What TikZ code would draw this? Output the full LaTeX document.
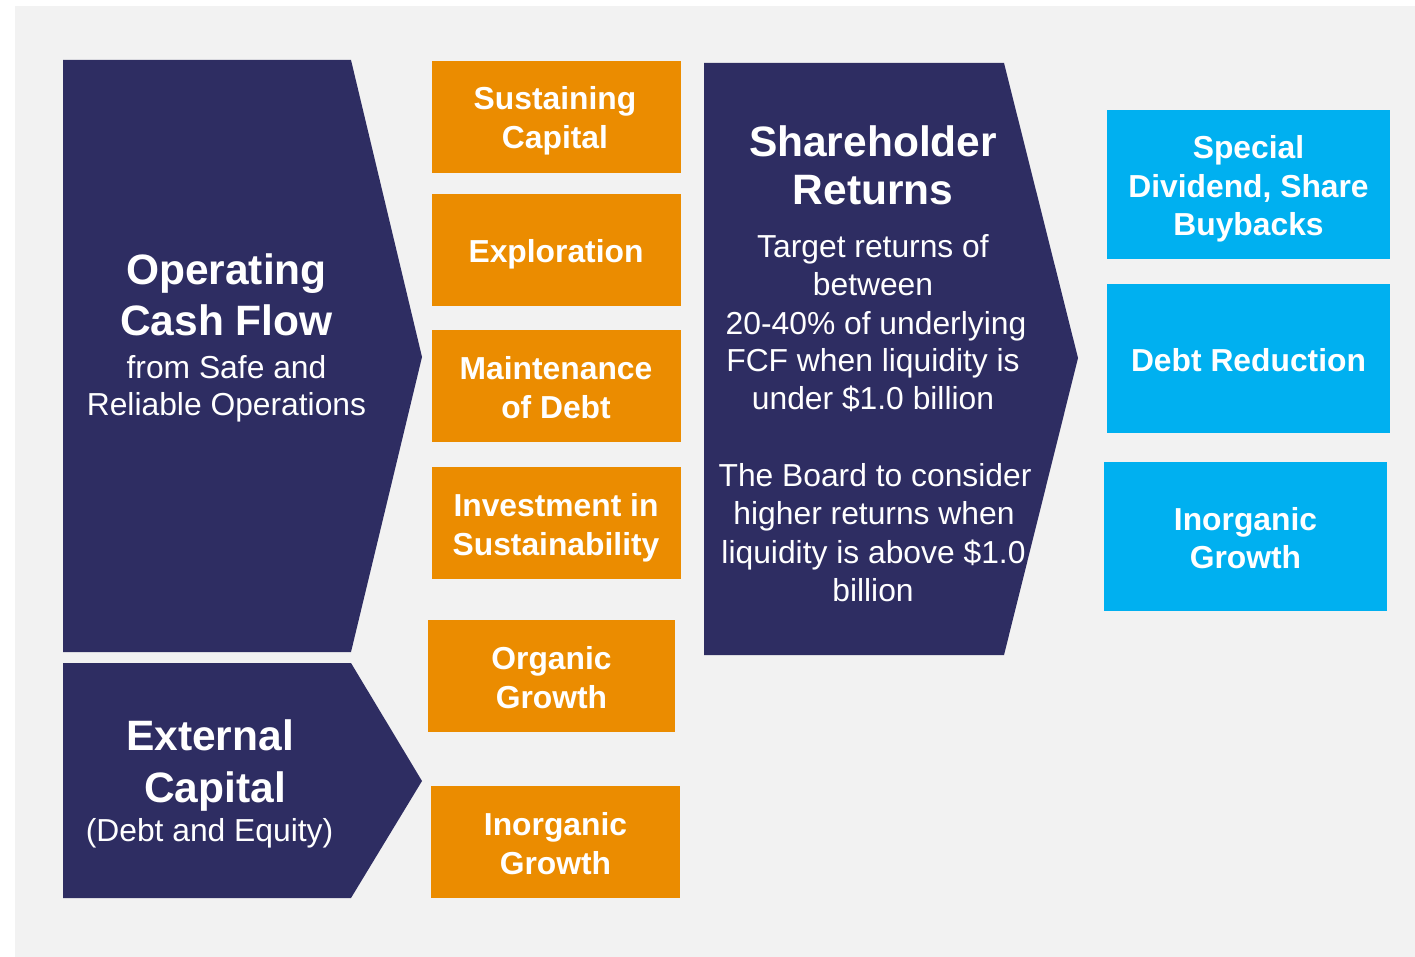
\documentclass[tikz,border=0pt]{standalone}
\usepackage{fontspec}
\setmainfont{Liberation Sans}
\definecolor{navy}{RGB}{46,45,98}
\definecolor{amber}{RGB}{235,140,0}
\definecolor{sky}{RGB}{0,176,240}
\definecolor{panel}{RGB}{242,242,242}
\begin{document}
\begin{tikzpicture}[x=1pt,y=-1pt,
  bigtitle/.style={font=\fontsize{42.5}{50}\selectfont\bfseries, text=white, anchor=base, inner sep=0pt, yshift=-2pt},
  boldline/.style={font=\fontsize{31.8}{38.5}\selectfont\bfseries, text=white, anchor=base, inner sep=0pt, yshift=-2pt},
  plainline/.style={font=\fontsize{31.8}{38.5}\selectfont, text=white, anchor=base, inner sep=0pt, yshift=-1.5pt},
  orangebox/.style={fill=amber, draw=none, rectangle, inner sep=0pt},
  bluebox/.style={fill=sky, draw=none, rectangle, inner sep=0pt}]
\useasboundingbox (0,0) rectangle (1415,957);
% background panel
\fill[panel] (15,6) rectangle (1415,957);

% chevron shapes
\fill[navy] (63,60) -- (351,60) -- (422,357) -- (351,652) -- (63,652) -- cycle;
\fill[navy] (63,663) -- (351,663) -- (422,781) -- (351,898) -- (63,898) -- cycle;
\fill[navy] (704,63) -- (1004,63) -- (1078,358) -- (1004,655) -- (704,655) -- cycle;

% Operating cash flow
\node[bigtitle] (ocf1) at (226.5,283) {Operating};
\node[bigtitle] (ocf2) at (226.5,333) {Cash Flow};
\node[plainline] (ocf3) at (226.5,377) {from Safe and};
\node[plainline] (ocf4) at (226.5,414) {Reliable Operations};

% External capital
\node[bigtitle] (ext1) at (210,748) {External};
\node[bigtitle] (ext2) at (215,800) {Capital};
\node[plainline] (ext3) at (209.5,840) {(Debt and Equity)};

% Shareholder returns
\node[bigtitle] (sr1) at (873,155) {Shareholder};
\node[bigtitle] (sr2) at (873,203) {Returns};
\node[plainline] (sr3) at (873,256) {Target returns of};
\node[plainline] (sr4) at (873,294) {between};
\node[plainline] (sr5) at (876,333) {20-40\% of underlying};
\node[plainline] (sr6) at (873,370) {FCF when liquidity is};
\node[plainline] (sr7) at (873,408) {under \$1.0 billion};
\node[plainline] (sr8) at (875,485) {The Board to consider};
\node[plainline] (sr9) at (874,523) {higher returns when};
\node[plainline] (sr10) at (873.5,562) {liquidity is above \$1.0};
\node[plainline] (sr11) at (873,600) {billion};

% capital allocation boxes
\node[orangebox, minimum width=249pt, minimum height=112pt] (o1) at (556.5,117) {};
\node[orangebox, minimum width=249pt, minimum height=112pt] (o2) at (556.5,250) {};
\node[orangebox, minimum width=249pt, minimum height=112pt] (o3) at (556.5,386) {};
\node[orangebox, minimum width=249pt, minimum height=112pt] (o4) at (556.5,523) {};
\node[orangebox, minimum width=247pt, minimum height=112pt] (o5) at (551.5,676) {};
\node[orangebox, minimum width=249pt, minimum height=112pt] (o6) at (555.5,842) {};

\node[boldline] (o1a) at (555,108) {Sustaining};
\node[boldline] (o1b) at (555,147) {Capital};
\node[boldline] (o2a) at (556,261) {Exploration};
\node[boldline] (o3a) at (556,377) {Maintenance};
\node[boldline] (o3b) at (556,416) {of Debt};
\node[boldline] (o4a) at (556,514) {Investment in};
\node[boldline] (o4b) at (556,553) {Sustainability};
\node[boldline] (o5a) at (551.5,667) {Organic};
\node[boldline] (o5b) at (551.5,706) {Growth};
\node[boldline] (o6a) at (555.5,833) {Inorganic};
\node[boldline] (o6b) at (555.5,872) {Growth};

% shareholder return options
\node[bluebox, minimum width=283pt, minimum height=149pt] (b1) at (1248.5,184.5) {};
\node[bluebox, minimum width=283pt, minimum height=149pt] (b2) at (1248.5,358.5) {};
\node[bluebox, minimum width=283pt, minimum height=149pt] (b3) at (1245.5,536.5) {};

\node[boldline] (b1a) at (1248.5,157) {Special};
\node[boldline] (b1b) at (1248.5,195.5) {Dividend, Share};
\node[boldline] (b1c) at (1248.5,234) {Buybacks};
\node[boldline] (b2a) at (1248.5,369.5) {Debt Reduction};
\node[boldline] (b3a) at (1245.5,528) {Inorganic};
\node[boldline] (b3b) at (1245.5,566.5) {Growth};
\end{tikzpicture}
\end{document}
